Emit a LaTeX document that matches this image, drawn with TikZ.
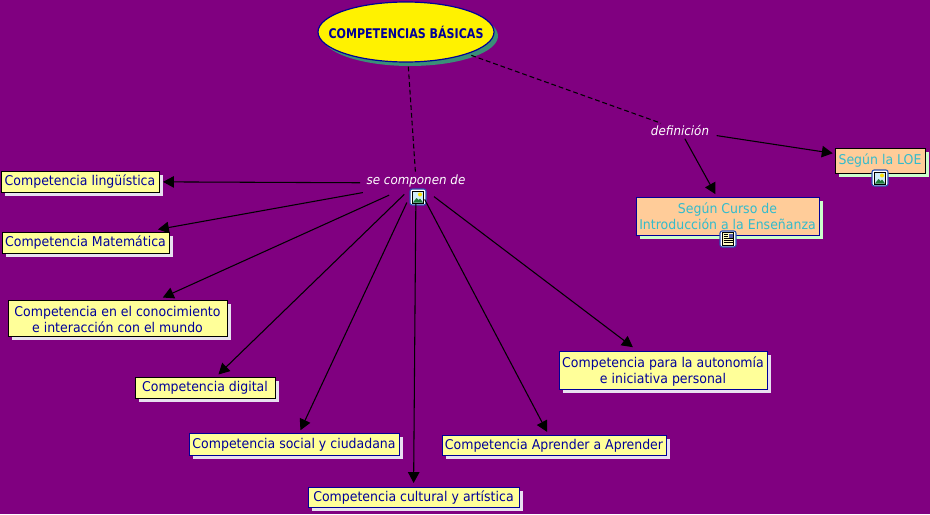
\documentclass[tikz,border=0pt]{standalone}
\usepackage{fontspec}
\setmainfont[FakeStretch=0.93]{DejaVu Sans}
\newfontfamily\rootfont[FakeStretch=0.83]{DejaVu Sans}
\usetikzlibrary{arrows.meta,shadows,shapes.geometric}
\definecolor{bgpurple}{HTML}{800080}
\definecolor{boxyellow}{HTML}{FFFF99}
\definecolor{peach}{HTML}{FFCC99}
\definecolor{navy}{HTML}{000099}
\definecolor{tealtext}{HTML}{33BBCC}
\definecolor{lav}{HTML}{E8E0F0}
\definecolor{mint}{HTML}{CCFFCC}
\definecolor{teal2}{HTML}{3A8F78}
\definecolor{sky}{HTML}{D0ECF8}
\definecolor{hill}{HTML}{1F7A3A}
\definecolor{iconblue}{HTML}{2A4FB0}
\newcommand\firststrut{\rule{0pt}{10pt}}
\tikzset{
  x=0.75pt,y=-0.75pt,
  base/.style={rectangle,inner sep=0pt,align=center,line width=0.7pt,font=\fontsize{10.1}{12}\selectfont},
  oneline/.style={text height=9.3pt,text depth=3pt},
  concept/.style={base,draw=navy,fill=boxyellow,text=navy,general shadow={fill=lav,shadow xshift=3pt,shadow yshift=-3pt}},
  blackb/.style={concept,draw=black},
  res/.style={base,fill=peach,text=tealtext,general shadow={fill=mint,shadow xshift=3pt,shadow yshift=-3pt}},
  linklabel/.style={inner sep=1pt,text=white,font=\fontsize{9.6}{11}\selectfont\itshape},
  arr/.style={black,line width=0.8pt,-{Triangle[length=8.2pt,width=8.6pt]}},
  dashline/.style={black,line width=0.8pt,dash pattern=on 3.6pt off 2.2pt},
  pics/imgicon/.style={code={
    \fill[rounded corners=1.6pt,fill=white,draw=iconblue,line width=0.8pt] (-8,-8) rectangle (8,8);
    \fill[fill=sky,draw=black,line width=0.6pt] (-5.5,-6) rectangle (5.5,6);
    \fill[yellow!85!orange] (2,-2.5) circle (2);
    \fill[hill] (-5.2,5.7) -- (-1.5,1) -- (0.5,3) -- (2,1.5) -- (5.2,5.7) -- cycle;
  }},
  pics/docicon/.style={code={
    \fill[rounded corners=1.6pt,fill=white,draw=iconblue,line width=0.8pt] (-8,-8) rectangle (8,8);
    \fill[fill=yellow!25,draw=black,line width=0.6pt] (-5.5,-6.5) rectangle (5.5,6.5);
    \fill[gray!70!blue] (0.5,-5.5) rectangle (4.5,-1.5);
    \draw[black,line width=0.5pt] (-4.5,-4.5) -- (-0.5,-4.5) (-4.5,-2.5) -- (-0.5,-2.5) (-4.5,-0.5) -- (4.5,-0.5) (-4.5,1.5) -- (4.5,1.5) (-4.5,3.5) -- (4.5,3.5);
  }},
}
\begin{document}
\begin{tikzpicture}
\useasboundingbox (0,0) rectangle (930,514);
\fill[bgpurple] (0,0) rectangle (930,514);

\coordinate (hub) at (416,183);

\node[ellipse,draw=navy,fill=yellow,line width=0.9pt,minimum width=132pt,minimum height=45pt,inner xsep=-12pt,inner ysep=0pt,text=navy,
  font=\fontsize{10}{12}\selectfont\rootfont\bfseries,general shadow={fill=teal2,shadow xshift=3pt,shadow yshift=-3pt}] (root) at (406,32) {COMPETENCIAS BÁSICAS};

\node[linklabel] (sc) at (416,181) {se componen de};
\node[linklabel] (def) at (680,130) {definición};

\node[blackb,oneline,minimum width=118.5pt,minimum height=15.75pt] (lin) at (80,181.5) {Competencia lingüística};
\node[blackb,oneline,minimum width=125.25pt,minimum height=15.75pt] (mat) at (85.5,242.5) {Competencia Matemática};
\node[blackb,minimum width=164.25pt,minimum height=27pt] (con) at (117.5,318) {\firststrut Competencia en el conocimiento\\e interacción con el mundo};
\node[blackb,oneline,minimum width=105pt,minimum height=15.75pt] (dig) at (205,387.5) {Competencia digital};
\node[concept,oneline,minimum width=157.5pt,minimum height=16.5pt] (soc) at (294,444) {Competencia social y ciudadana};
\node[concept,oneline,minimum width=158.25pt,minimum height=15pt] (cul) at (413.5,497) {Competencia cultural y artística};
\node[concept,oneline,minimum width=168pt,minimum height=15pt] (apr) at (554,445) {Competencia Aprender a Aprender};
\node[concept,minimum width=156pt,minimum height=28.5pt] (aut) at (663,370) {\firststrut Competencia para la autonomía\\e iniciativa personal};
\node[res,draw=black,oneline,minimum width=67.5pt,minimum height=18.75pt] (loe) at (880,160.5) {Según la LOE};
\node[res,draw=navy,minimum width=137.25pt,minimum height=28.5pt] (cur) at (727.5,216) {Según Curso de\\Introducción a la Enseñanza};

\pic at (418,197) {imgicon};
\pic at (880,178) {imgicon};
\pic at (728,239) {docicon};

\draw[dashline,shorten <=3pt] (root) -- (sc);
\draw[dashline,shorten <=3pt] (root) -- (def);

\draw[arr,shorten <={56*0.75pt},shorten >={83*0.75pt}] (hub) -- (lin.center);
\draw[arr,shorten <={54*0.75pt},shorten >={73.6*0.75pt}] (hub) -- (mat.center);
\draw[arr,shorten <={29.5*0.75pt},shorten >={49.7*0.75pt}] (hub) -- (con.center);
\draw[arr,shorten <={16.3*0.75pt},shorten >={18.7*0.75pt}] (hub) -- (dig.center);
\draw[arr,shorten <={21.5*0.75pt},shorten >={15.2*0.75pt}] (hub) -- (soc.center);
\draw[arr,shorten <={20*0.75pt},shorten >={14*0.75pt}] (hub) -- (cul.center);
\draw[arr,shorten <={18.6*0.75pt},shorten >={14.8*0.75pt}] (hub) -- (apr.center);
\draw[arr,shorten <={22.5*0.75pt},shorten >={37.8*0.75pt}] (hub) -- (aut.center);
\draw[arr,shorten <={37*0.75pt},shorten >={47.8*0.75pt}] (def.center) -- (loe.center);
\draw[arr,shorten <={10*0.75pt},shorten >={25*0.75pt}] (def.center) -- (cur.center);
\end{tikzpicture}
\end{document}
